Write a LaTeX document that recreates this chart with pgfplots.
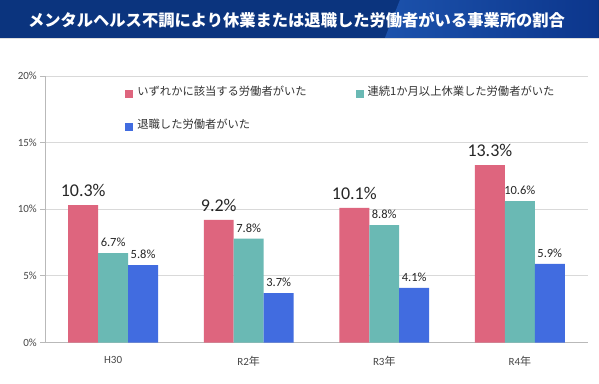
\documentclass[border=0pt]{standalone}
\usepackage{fontspec}
\usepackage{pgfplots}
\pgfplotsset{compat=1.18}
\setmainfont{Carlito}
\newfontfamily\jp{Noto Sans CJK JP}
\definecolor{cred}{RGB}{222,101,126}
\definecolor{cteal}{RGB}{106,185,180}
\definecolor{cblue}{RGB}{65,108,224}
\definecolor{bannerL}{RGB}{11,52,126}
\definecolor{bannerM}{RGB}{28,82,172}
\definecolor{bannerR}{RGB}{12,54,140}
\definecolor{ticktext}{RGB}{70,70,70}
\begin{document}
\begin{tikzpicture}[x=1pt,y=1pt]
\fill[white] (0,0) rectangle (599,384);
% banner
\fill[bannerL] (0,346) rectangle (599,384);
\shade[left color=bannerM, right color=bannerR] (385,346) -- (400,384) -- (599,384) -- (599,346) -- cycle;
\draw[gray!25, line width=0.8pt] (0,345.6) -- (599,345.6);
\node[text=white, font=\jp\bfseries\fontsize{16.3}{17}\selectfont] at (296.5,364) {メンタルヘルス不調により休業または退職した労働者がいる事業所の割合};
\begin{axis}[
  at={(45pt,41pt)}, anchor=south west,
  scale only axis, width=543pt, height=267pt,
  xmin=-0.5, xmax=3.5, ymin=0, ymax=20,
  ybar=0pt, bar width=0.221,
  /pgf/number format/assume math mode=true,
  axis x line*=bottom, axis y line*=left,
  axis line style={-, draw=gray!55, line width=0.8pt},
  xtick={0,1,2,3},
  xticklabels={H30, R2{\jp 年}, R3{\jp 年}, R4{\jp 年}},
  x tick style={draw=none},
  xticklabel style={font=\fontsize{11}{11}\selectfont, text=ticktext, yshift=-5pt},
  extra x ticks={-0.5,0.5,1.5,2.5,3.5},
  extra x tick labels={},
  extra x tick style={grid=none, tick align=outside, major tick length=4pt, tick style={draw=gray!55, line width=0.8pt}},
  ytick={0,5,10,15,20},
  yticklabels={0\%,5\%,10\%,15\%,20\%},
  y tick style={draw=gray!55, line width=0.8pt},
  tick align=outside, major tick length=5pt,
  yticklabel style={font=\fontsize{11}{11}\selectfont, text=ticktext},
  ymajorgrids, grid style={gray!30, line width=0.8pt},
  legend columns=2,
  legend image code/.code={\fill[#1] (0pt,-5.5pt) rectangle (8pt,2.5pt);},
  legend style={at={(0.1473,0.9607)}, anchor=north west, draw=none, fill=none,
    inner sep=0pt, row sep=22pt,
    font=\jp\fontsize{11.3}{11.3}\selectfont, text=black!80,
    nodes={inner sep=0pt, anchor=west, text height=9pt, text depth=2pt},
    /tikz/every odd column/.append style={column sep=4pt},
    /tikz/every even column/.append style={column sep=49pt}},
  nodes near coords={\pgfmathprintnumber[fixed,fixed zerofill,precision=1]{\pgfplotspointmeta}\%},
]
\addplot[fill=cred, draw=none,
  every node near coord/.append style={anchor=south, inner sep=0pt, yshift=8pt, text=black!85, font=\fontsize{18}{18}\selectfont}]
  coordinates {(0,10.3) (1,9.2) (2,10.1) (3,13.3)};
\addplot[fill=cteal, draw=none,
  every node near coord/.append style={anchor=south, inner sep=0pt, yshift=6pt, text=black!85, font=\fontsize{12.5}{12.5}\selectfont}]
  coordinates {(0,6.7) (1,7.8) (2,8.8) (3,10.6)};
\addplot[fill=cblue, draw=none,
  every node near coord/.append style={anchor=south, inner sep=0pt, yshift=6pt, text=black!85, font=\fontsize{12.5}{12.5}\selectfont}]
  coordinates {(0,5.8) (1,3.7) (2,4.1) (3,5.9)};
\legend{いずれかに該当する労働者がいた, 連続1か月以上休業した労働者がいた, 退職した労働者がいた}
\end{axis}
\end{tikzpicture}
\end{document}
